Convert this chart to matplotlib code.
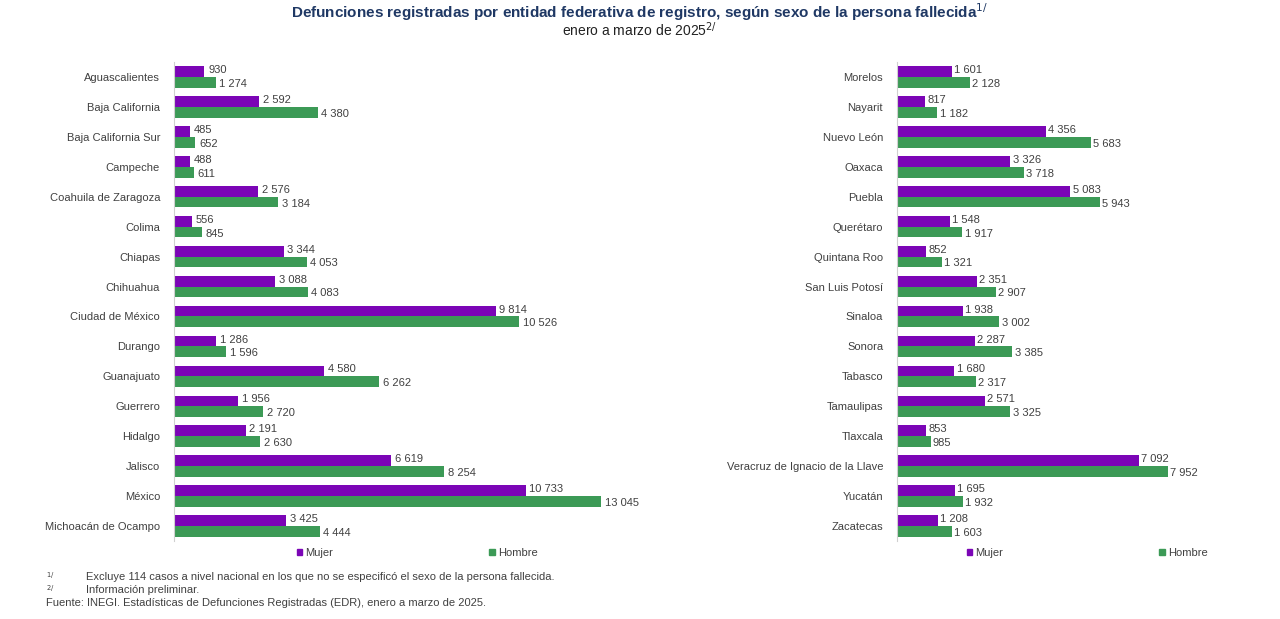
import matplotlib
import matplotlib.pyplot as plt
import numpy as np
from matplotlib.patches import Patch

plt.rcParams['font.family'] = ['Liberation Sans', 'DejaVu Sans']

estados_izq = ["Aguascalientes", "Baja California", "Baja California Sur", "Campeche",
               "Coahuila de Zaragoza", "Colima", "Chiapas", "Chihuahua", "Ciudad de México",
               "Durango", "Guanajuato", "Guerrero", "Hidalgo", "Jalisco", "México",
               "Michoacán de Ocampo"]
mujer_izq = [930, 2592, 485, 488, 2576, 556, 3344, 3088, 9814, 1286, 4580, 1956, 2191, 6619, 10733, 3425]
hombre_izq = [1274, 4380, 652, 611, 3184, 845, 4053, 4083, 10526, 1596, 6262, 2720, 2630, 8254, 13045, 4444]

estados_der = ["Morelos", "Nayarit", "Nuevo León", "Oaxaca", "Puebla", "Querétaro",
               "Quintana Roo", "San Luis Potosí", "Sinaloa", "Sonora", "Tabasco",
               "Tamaulipas", "Tlaxcala", "Veracruz de Ignacio de la Llave", "Yucatán", "Zacatecas"]
mujer_der = [1601, 817, 4356, 3326, 5083, 1548, 852, 2351, 1938, 2287, 1680, 2571, 853, 7092, 1695, 1208]
hombre_der = [2128, 1182, 5683, 3718, 5943, 1917, 1321, 2907, 3002, 3385, 2317, 3325, 985, 7952, 1932, 1603]

c_mujer = "#7B05B6"
c_hombre = "#3C9A56"
txt = "#404040"

def fmt(v):
    return f"{v:,}".replace(",", " ")

fig = plt.figure(figsize=(12.8, 6.19), dpi=100)
W, H = 1280, 619

def panel(x0, x1, estados, mujer, hombre, xmax, leg_x):
    ax = fig.add_axes([x0 / W, 1 - 541 / H, (x1 - x0) / W, (541 - 62) / H])
    y = np.arange(len(estados))
    h = 0.36
    ax.barh(y - h / 2, mujer, h, color=c_mujer)
    ax.barh(y + h / 2, hombre, h, color=c_hombre)
    for yi, m, hv in zip(y, mujer, hombre):
        ax.text(m + xmax * 0.008, yi - h / 2 - 0.05, fmt(m), va="center", fontsize=8, color=txt)
        ax.text(hv + xmax * 0.008, yi + h / 2 + 0.05, fmt(hv), va="center", fontsize=8, color=txt)
    ax.set_yticks(y, estados, fontsize=8, color=txt)
    ax.set_ylim(len(estados) - 0.5, -0.5)
    ax.set_xlim(0, xmax)
    ax.set_xticks([])
    for s in ["top", "right", "bottom"]:
        ax.spines[s].set_visible(False)
    ax.spines["left"].set_color("#D0D0D0")
    ax.tick_params(axis="y", length=0, pad=10)
    ax.legend(handles=[Patch(color=c_mujer, label="Mujer"), Patch(color=c_hombre, label="Hombre")],
              loc="upper left", bbox_to_anchor=((leg_x - x0) / (x1 - x0), 0.0), ncols=2, frameon=False,
              fontsize=8, handlelength=0.5, handleheight=0.5, columnspacing=14, handletextpad=0.3,
              labelcolor=txt, borderaxespad=0.2)
    return ax

panel(174, 636, estados_izq, mujer_izq, hombre_izq, 14100, 290)
panel(897, 1180, estados_der, mujer_der, hombre_der, 8300, 960)

fig.text(0.5, 1 - 12 / H, "Defunciones registradas por entidad federativa de registro, según sexo de la persona fallecida$^{1/}$",
         ha="center", va="center", fontsize=11, fontweight="bold", color="#1F3864")
fig.text(0.5, 1 - 30 / H, "enero a marzo de 2025$^{2/}$", ha="center", va="center", fontsize=10, color="#222222")

fig.text(46 / W, 1 - 577 / H, "$^{1/}$", fontsize=7, color=txt, va="center")
fig.text(86 / W, 1 - 577 / H, "Excluye 114 casos a nivel nacional en los que no se especificó el sexo de la persona fallecida.",
         fontsize=8, color=txt, va="center")
fig.text(46 / W, 1 - 590 / H, "$^{2/}$", fontsize=7, color=txt, va="center")
fig.text(86 / W, 1 - 590 / H, "Información preliminar.", fontsize=8, color=txt, va="center")
fig.text(46 / W, 1 - 603 / H, "Fuente: INEGI. Estadísticas de Defunciones Registradas (EDR), enero a marzo de 2025.",
         fontsize=8, color=txt, va="center")

plt.savefig("out.png", dpi=100)
